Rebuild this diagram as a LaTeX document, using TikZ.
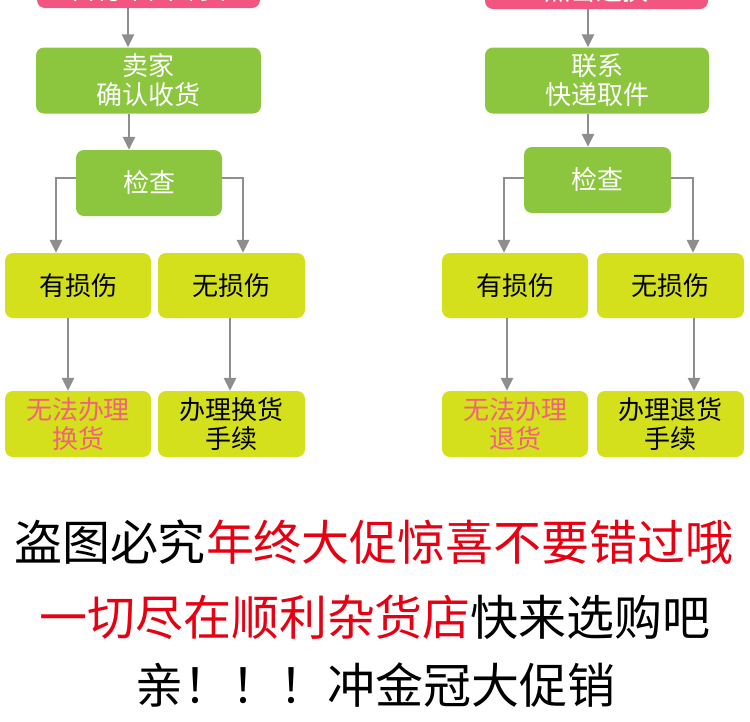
\documentclass[tikz,border=0pt]{standalone}
\usepackage{fontspec}
\newfontfamily\cjk{Noto Sans CJK SC}
\usetikzlibrary{arrows.meta}
\definecolor{pinkbox}{HTML}{F2557F}
\definecolor{greenbox}{HTML}{8CC63F}
\definecolor{yellowbox}{HTML}{D5E01D}
\definecolor{arrowgray}{HTML}{8E8E8E}
\definecolor{warnpink}{HTML}{F0637A}
\definecolor{adred}{HTML}{E60012}
\tikzset{
  every node/.style={font=\cjk\fontsize{26pt}{29pt}\selectfont, align=center, inner sep=0pt},
  boxbase/.style={rounded corners=8pt, minimum height=66pt},
  pinkb/.style={boxbase, fill=pinkbox, text=white, minimum width=223pt, minimum height=36pt},
  greenb/.style={boxbase, fill=greenbox, text=white},
  yellowb/.style={boxbase, fill=yellowbox, text=black, minimum width=146pt, minimum height=65pt},
  arr/.style={draw=arrowgray, line width=2.6pt, -{Triangle[width=12pt,length=13pt]}},
  adline/.style={font=\cjk\fontsize{48pt}{50pt}\selectfont, text=black}
}
\begin{document}
\begin{tikzpicture}[x=1pt,y=-1pt]
\useasboundingbox (0,0) rectangle (750,721);
\fill[white] (0,0) rectangle (750,721);
\clip (0,0) rectangle (750,721);
% left column
\node[pinkb] (pinkL) at (148.5,-10) {自付来回邮费};
\node[greenb, minimum width=225pt] (g1L) at (148.5,80.5) {卖家\\确认收货};
\node[greenb, minimum width=146pt] (chkL) at (149,183) {检查};
\node[yellowb] (yL1) at (78,285.5) {有损伤};
\node[yellowb, minimum width=147pt] (yL2) at (231.5,285.5) {无损伤};
\node[yellowb, minimum height=66pt, text=warnpink] (bL1) at (78,424) {无法办理\\换货};
\node[yellowb, minimum width=147pt, minimum height=66pt] (bL2) at (231.5,424) {办理换货\\手续};
\draw[arr] ([xshift=-20.5pt]pinkL.south) -- ([xshift=-20.5pt]g1L.north);
\draw[arr] ([xshift=-19.5pt]g1L.south) -- ([xshift=-20pt]chkL.north);
\draw[arr] ([yshift=5pt]chkL.west) -| ([xshift=-22pt]yL1.north);
\draw[arr] ([yshift=5pt]chkL.east) -| ([xshift=11.5pt]yL2.north);
\draw[arr] ([xshift=-10pt]yL1.south) -- ([xshift=-10pt]bL1.north);
\draw[arr] ([xshift=-1.5pt]yL2.south) -- ([xshift=-1.5pt]bL2.north);
% right column
\node[pinkb] (pinkR) at (596.5,-9) {点击退换};
\node[greenb, minimum width=224pt] (g1R) at (597,80.5) {联系\\快递取件};
\node[greenb, minimum width=147pt] (chkR) at (597.5,180) {检查};
\node[yellowb] (yR1) at (515,285.5) {有损伤};
\node[yellowb, minimum width=147pt] (yR2) at (670.5,285.5) {无损伤};
\node[yellowb, minimum height=66pt, text=warnpink] (bR1) at (515,424) {无法办理\\退货};
\node[yellowb, minimum width=147pt, minimum height=66pt] (bR2) at (670.5,424) {办理退货\\手续};
\draw[arr] ([xshift=-8.5pt]pinkR.south) -- ([xshift=-9pt]g1R.north);
\draw[arr] ([xshift=-9pt]g1R.south) -- ([xshift=-9.5pt]chkR.north);
\draw[arr] ([yshift=2pt]chkR.west) -| ([xshift=-11pt]yR1.north);
\draw[arr] ([yshift=2pt]chkR.east) -| ([xshift=22.5pt]yR2.north);
\draw[arr] ([xshift=-8pt]yR1.south) -- ([xshift=-8pt]bR1.north);
\draw[arr] ([xshift=23.5pt]yR2.south) -- ([xshift=23.5pt]bR2.north);
% bottom text
\node[adline] (ad1) at (374,542) {盗图必究{\color{adred}年终大促惊喜不要错过哦}};
\node[adline] (ad2) at (375,617) {{\color{adred}一切尽在顺利杂货店}快来选购吧};
\node[adline] (ad3) at (375,685) {亲！！！冲金冠大促销};
\end{tikzpicture}
\end{document}
